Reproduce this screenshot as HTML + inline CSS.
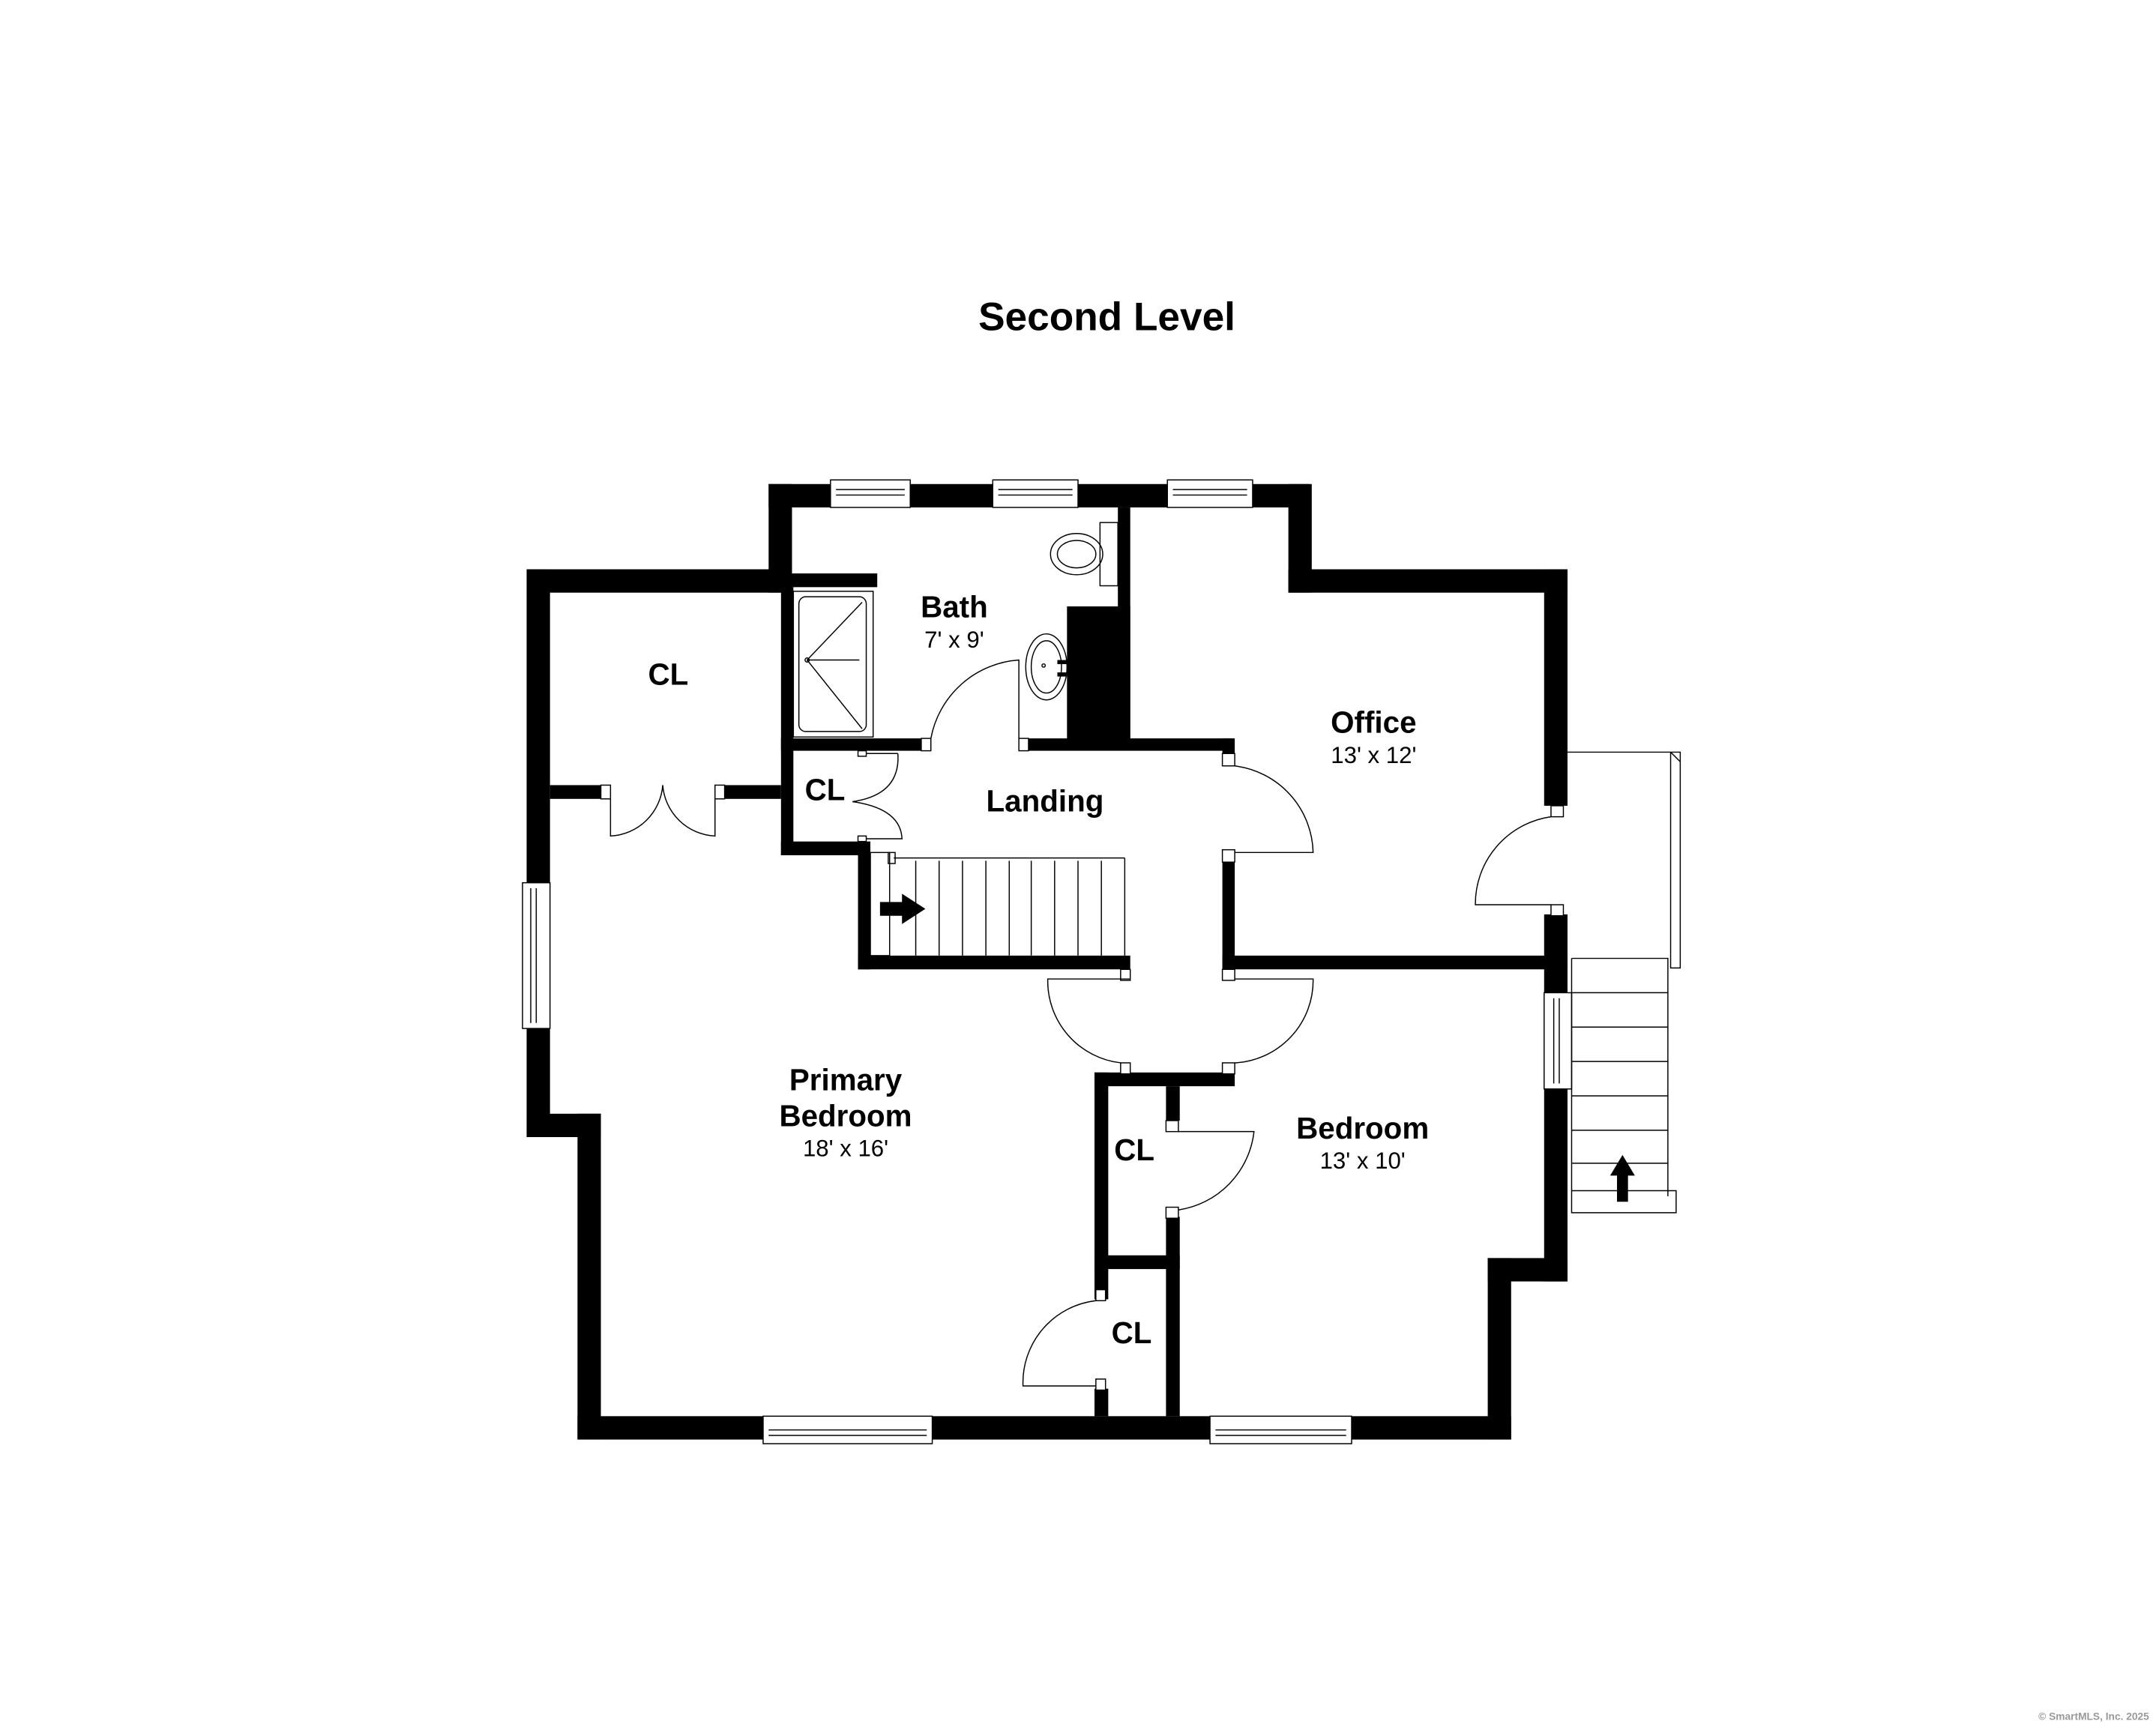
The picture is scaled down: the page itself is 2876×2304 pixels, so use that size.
<!DOCTYPE html>
<html><head><meta charset="utf-8"><style>
html,body{margin:0;padding:0;background:#fff;}
svg{display:block;}
text{font-family:"Liberation Sans",Arial,sans-serif;fill:#000;}
</style></head><body>
<svg width="2876" height="2304" viewBox="0 0 1568 1256" xmlns="http://www.w3.org/2000/svg">
<rect width="1568" height="1256" fill="#fff"/>
<text x="805" y="240" font-size="29" font-weight="bold" text-anchor="middle">Second Level</text>

<g fill="#000">
<rect x="559" y="352" width="393" height="17"/>
<rect x="559" y="352" width="17" height="79"/>
<rect x="383" y="414" width="193" height="17"/>
<rect x="568" y="417" width="70" height="10"/>
<rect x="383" y="414" width="17" height="413"/>
<rect x="383" y="810" width="54" height="17"/>
<rect x="420" y="810" width="17" height="237"/>
<rect x="420" y="1030" width="679" height="17"/>
<rect x="1082" y="915" width="17" height="132"/>
<rect x="1082" y="915" width="58" height="17"/>
<rect x="1123" y="414" width="17" height="172"/>
<rect x="1123" y="665" width="17" height="57"/>
<rect x="1123" y="792" width="17" height="140"/>
<rect x="937" y="414" width="203" height="17"/>
<rect x="937" y="352" width="17" height="79"/>
<rect x="813" y="369" width="9" height="171"/>
<rect x="776" y="441" width="46" height="99"/>
<rect x="568" y="537" width="102" height="9"/>
<rect x="748" y="537" width="148" height="9"/>
<rect x="889" y="537" width="9" height="20"/>
<rect x="889" y="625" width="9" height="80"/>
<rect x="889" y="695" width="251" height="10"/>
<rect x="568" y="427" width="9" height="195"/>
<rect x="568" y="612" width="60" height="10"/>
<rect x="624" y="612" width="9" height="93"/>
<rect x="624" y="695" width="198" height="10"/>
<rect x="400" y="571" width="37" height="10"/>
<rect x="527" y="571" width="41" height="10"/>
<rect x="796" y="780" width="102" height="10"/>
<rect x="796" y="780" width="10" height="165"/>
<rect x="848" y="790" width="10" height="25"/>
<rect x="848" y="885" width="10" height="145"/>
<rect x="796" y="913" width="62" height="10"/>
<rect x="796" y="1010" width="10" height="20"/>
</g>

<g fill="#fff" stroke="#000" stroke-width="0.8">
<rect x="604" y="349" width="58" height="20"/><line x1="608" y1="356" x2="658" y2="356"/><line x1="608" y1="360" x2="658" y2="360"/>
<rect x="722" y="349" width="62" height="20"/><line x1="726" y1="356" x2="780" y2="356"/><line x1="726" y1="360" x2="780" y2="360"/>
<rect x="849" y="349" width="62" height="20"/><line x1="853" y1="356" x2="907" y2="356"/><line x1="853" y1="360" x2="907" y2="360"/>
<rect x="380" y="642" width="20" height="106"/><line x1="386" y1="646" x2="386" y2="744"/><line x1="390" y1="646" x2="390" y2="744"/>
<rect x="555" y="1030" width="123" height="20"/><line x1="559" y1="1040" x2="674" y2="1040"/><line x1="559" y1="1044" x2="674" y2="1044"/>
<rect x="880" y="1030" width="103" height="20"/><line x1="884" y1="1040" x2="979" y2="1040"/><line x1="884" y1="1044" x2="979" y2="1044"/>
<rect x="1123" y="722" width="20" height="70"/><line x1="1130" y1="726" x2="1130" y2="788"/><line x1="1134" y1="726" x2="1134" y2="788"/>
</g>

<g fill="#fff" stroke="#000" stroke-width="0.8">
<rect x="670" y="537" width="7" height="9"/><rect x="741" y="537" width="7" height="9"/>
<path d="M677 537 A70 70 0 0 1 741 480 L741 537" fill="none"/>
<rect x="889" y="548" width="9" height="9"/><rect x="889" y="618" width="9" height="9"/>
<path d="M898 557 A65 65 0 0 1 955 620 L898 620" fill="none"/>
<rect x="1128" y="586" width="9" height="8"/><rect x="1128" y="658" width="9" height="8"/>
<path d="M1128 594 A64 64 0 0 0 1073 658 L1128 658" fill="none"/>
<rect x="437" y="571" width="7" height="10"/><rect x="520" y="571" width="7" height="10"/>
<path d="M444 581 L444 608 A40 40 0 0 0 482 571 M520 581 L520 608 A40 40 0 0 1 482 571" fill="none"/>
<rect x="624" y="546" width="6" height="4"/><rect x="624" y="608" width="6" height="4"/>
<path d="M630 548 L653 548 M653 548 Q655 578 620 583 Q655 588 656 610 L630 610" fill="none"/>
<rect x="815" y="705" width="7" height="8"/><rect x="889" y="705" width="9" height="8"/>
<path d="M822 712 L762 712 A60 60 0 0 0 815 773" fill="none"/>
<path d="M898 712 L955 712 A60 60 0 0 1 898 773" fill="none"/>
<rect x="815" y="773" width="7" height="8"/><rect x="889" y="773" width="9" height="8"/>
<rect x="848" y="815" width="9" height="8"/><rect x="848" y="878" width="9" height="8"/>
<path d="M857 823 L912 823 A65 65 0 0 1 857 880" fill="none"/>
<rect x="797" y="938" width="7" height="8"/><rect x="797" y="1003" width="7" height="8"/>
<path d="M797 1008 L744 1008 A60 60 0 0 1 797 946" fill="none"/>
</g>

<g fill="none" stroke="#000" stroke-width="0.8">
<rect x="577" y="430" width="58" height="106" fill="#fff"/>
<rect x="581" y="434" width="49" height="98" rx="5"/>
<path d="M627 438 L587 480 L627 530 M587 480 L625 480"/>
<circle cx="587" cy="480" r="1.5"/>
<rect x="800" y="380" width="13" height="46"/>
<ellipse cx="783" cy="403" rx="19" ry="15"/><ellipse cx="783" cy="403" rx="14" ry="10"/>
<ellipse cx="761" cy="485" rx="15" ry="24"/><ellipse cx="761" cy="485" rx="11" ry="19"/>
<circle cx="759" cy="484" r="1.2"/>
</g>
<rect x="769" y="480" width="7" height="3" fill="#000"/><rect x="769" y="489" width="7" height="3" fill="#000"/>

<g fill="none" stroke="#000" stroke-width="0.8">
<rect x="633" y="620" width="14" height="75"/>
<line x1="650" y1="624" x2="818" y2="624"/><rect x="646" y="620" width="5" height="8"/>
<line x1="818" y1="624" x2="818" y2="695"/>
<path d="M666 626V695M683 626V695M700 626V695M717 626V695M734 626V695M750 626V695M767 626V695M784 626V695M801 626V695"/>
</g>
<path d="M640 656 L656 656 L656 650 L673 661 L656 672 L656 666 L640 666 Z" fill="#000"/>

<g fill="none" stroke="#000" stroke-width="0.8">
<path d="M1140 547 L1222 547 L1222 704 L1215 704 L1215 547"/>
<line x1="1215" y1="547" x2="1222" y2="554"/>
<path d="M1143 697 L1213 697 L1213 870 M1143 697 L1143 882 L1219 882 L1219 866 L1213 866"/>
<path d="M1143 722H1213M1143 747H1213M1143 772H1213M1143 797H1213M1143 822H1213M1143 846H1213M1143 866H1213"/>
</g>
<path d="M1176 874 L1176 855 L1171 855 L1180 840 L1189 855 L1184 855 L1184 874 Z" fill="#000"/>

<g font-weight="bold" font-size="22" text-anchor="middle">
<text x="694" y="449">Bath</text>
<text x="486" y="498">CL</text>
<text x="600" y="582">CL</text>
<text x="760" y="590">Landing</text>
<text x="999" y="533">Office</text>
<text x="615" y="793">Primary</text>
<text x="615" y="819">Bedroom</text>
<text x="991" y="828">Bedroom</text>
<text x="825" y="844">CL</text>
<text x="823" y="977">CL</text>
</g>
<g font-size="17" text-anchor="middle">
<text x="694" y="471">7' x 9'</text>
<text x="999" y="555">13' x 12'</text>
<text x="615" y="841">18' x 16'</text>
<text x="991" y="850">13' x 10'</text>
</g>
<text x="1563" y="1251" font-size="7.5" font-weight="bold" style="fill:#999" text-anchor="end">© SmartMLS, Inc.  2025</text>
</svg>
</body></html>
